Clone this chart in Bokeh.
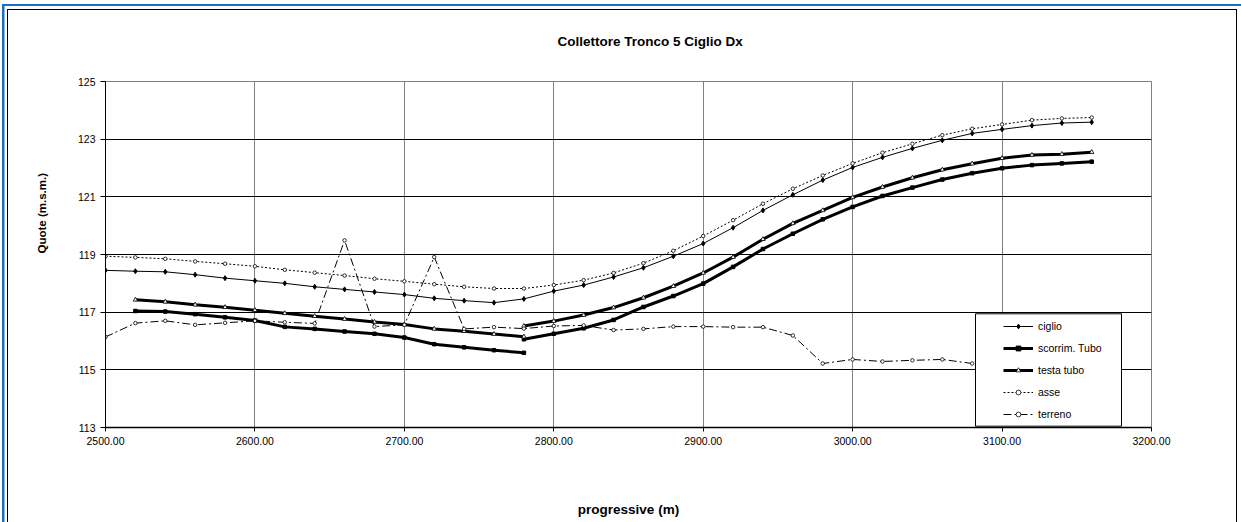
from bokeh.plotting import figure
from bokeh.models import (Range1d, FixedTicker, NumeralTickFormatter, Title,
                          Legend, LegendItem, BoxAnnotation)
from bokeh.embed import file_html
from bokeh.resources import INLINE

# ---------------- data ----------------
title_text = "Collettore Tronco 5 Ciglio Dx"
x_title = "progressive (m)"
y_title = "Quote (m.s.m.)"

x_ticks = [2500, 2600, 2700, 2800, 2900, 3000, 3100, 3200]
y_ticks = [113, 115, 117, 119, 121, 123, 125]

prog = [2500, 2520, 2540, 2560, 2580, 2600, 2620, 2640, 2660, 2680,
        2700, 2720, 2740, 2760, 2780, 2800, 2820, 2840, 2860, 2880,
        2900, 2920, 2940, 2960, 2980, 3000, 3020, 3040, 3060, 3080,
        3100, 3120, 3140, 3160]

ciglio = [118.45, 118.42, 118.40, 118.30, 118.18, 118.09, 118.00, 117.88, 117.79, 117.70,
          117.61, 117.48, 117.40, 117.33, 117.46, 117.73, 117.94, 118.22, 118.54, 118.94,
          119.38, 119.93, 120.53, 121.07, 121.58, 122.02, 122.37, 122.68, 122.96, 123.20,
          123.34, 123.47, 123.56, 123.59]

asse = [118.94, 118.90, 118.85, 118.76, 118.68, 118.59, 118.47, 118.37, 118.27, 118.16,
        118.07, 117.97, 117.88, 117.82, 117.82, 117.94, 118.11, 118.36, 118.70, 119.13,
        119.64, 120.19, 120.76, 121.28, 121.74, 122.16, 122.53, 122.84, 123.14, 123.36,
        123.51, 123.66, 123.72, 123.75]

prog_terreno = [2500, 2520, 2540, 2560, 2580, 2600, 2620, 2640, 2660, 2680,
                2700, 2720, 2740, 2760, 2780, 2800, 2820, 2840, 2860, 2880,
                2900, 2920, 2940, 2960, 2980, 3000, 3020, 3040, 3060, 3080]
terreno = [116.14, 116.62, 116.70, 116.56, 116.63, 116.70, 116.65, 116.61, 119.49, 116.50,
           116.56, 118.91, 116.42, 116.48, 116.43, 116.52, 116.54, 116.38, 116.42, 116.50,
           116.50, 116.48, 116.48, 116.19, 115.22, 115.36, 115.29, 115.33, 115.36, 115.22]

# pipe: two stretches, split at 2780
prog_tubo_sx = [2520, 2540, 2560, 2580, 2600, 2620, 2640, 2660, 2680, 2700,
                2720, 2740, 2760, 2780]
prog_tubo_dx = [2780, 2800, 2820, 2840, 2860, 2880, 2900, 2920, 2940, 2960,
                2980, 3000, 3020, 3040, 3060, 3080, 3100, 3120, 3140, 3160]

scorrim_sx = [117.04, 117.02, 116.93, 116.82, 116.71, 116.49, 116.42, 116.33, 116.25, 116.12,
              115.89, 115.78, 115.68, 115.59]
scorrim_dx = [116.06, 116.25, 116.44, 116.73, 117.18, 117.56, 117.99, 118.57, 119.19, 119.72,
              120.22, 120.65, 121.03, 121.32, 121.60, 121.82, 121.99, 122.10, 122.16, 122.22]

testa_sx = [117.43, 117.36, 117.26, 117.17, 117.07, 116.96, 116.86, 116.76, 116.66, 116.57,
            116.42, 116.34, 116.24, 116.15]
testa_dx = [116.52, 116.69, 116.90, 117.16, 117.50, 117.90, 118.36, 118.91, 119.53, 120.08,
            120.53, 120.98, 121.34, 121.66, 121.94, 122.15, 122.34, 122.45, 122.48, 122.55]

# ---------------- figure ----------------
FONT = "Liberation Sans"
nan = float("nan")

p = figure(width=1241, height=522, output_backend="svg", toolbar_location=None,
           x_range=Range1d(2500, 3200), y_range=Range1d(113, 125),
           min_border_left=105, min_border_right=90, min_border_top=81, min_border_bottom=95,
           background_fill_color="white", border_fill_color="white", border_fill_alpha=0)
p.styles = {"box-shadow": ", ".join([
    "inset 2px 0 0 0 #ffffff", "inset 0 4px 0 0 #ffffff",
    "inset 4.5px 0 0 0 #1F6FC0", "inset 0 6px 0 0 #1F6FC0",
    "inset 7px 0 0 0 #ffffff", "inset 0 9px 0 0 #ffffff", "inset -4px 0 0 0 #ffffff",
    "inset 8px 0 0 0 #000000", "inset 0 10px 0 0 #000000", "inset -5px 0 0 0 #000000",
]), "background-color": "white"}
p.outline_line_color = "#808080"
p.outline_line_width = 1

# title (above)
p.title.text = title_text
p.title.align = "left"
p.title.offset = 452
p.title.vertical_align = "top"
p.title.standoff = 62
p.title.text_font = FONT
p.title.text_font_style = "bold"
p.title.text_font_size = "13.5px"
p.title.text_color = "black"

p.xgrid.ticker = FixedTicker(ticks=x_ticks)
p.xgrid.grid_line_color = "#808080"
p.xgrid.grid_line_width = 1
p.ygrid.ticker = FixedTicker(ticks=y_ticks)
p.ygrid.grid_line_color = "black"
p.ygrid.grid_line_width = 1

xa = p.xaxis[0]
xa.ticker = FixedTicker(ticks=x_ticks)
xa.formatter = NumeralTickFormatter(format="0.00")
xa.axis_line_color = "black"
xa.axis_line_width = 1.5
xa.major_tick_out = 4
xa.major_tick_in = 0
xa.minor_tick_out = 0
xa.minor_tick_in = 0
xa.major_label_standoff = 5
xa.major_label_text_font = FONT
xa.major_label_text_font_size = "10.5px"
xa.major_label_text_color = "black"
xa.axis_label = x_title
xa.axis_label_standoff = 54
xa.axis_label_text_font = FONT
xa.axis_label_text_font_style = "bold"
xa.axis_label_text_font_size = "13.5px"
xa.axis_label_text_color = "black"

ya = p.yaxis[0]
ya.ticker = FixedTicker(ticks=y_ticks)
ya.axis_line_color = "black"
ya.axis_line_width = 1
ya.major_tick_out = 5
ya.major_tick_in = 0
ya.minor_tick_out = 0
ya.minor_tick_in = 0
ya.major_label_standoff = 5
ya.major_label_text_font = FONT
ya.major_label_text_font_size = "10.5px"
ya.major_label_text_color = "black"

# y-axis title as a side title so it can be shifted along the axis
p.add_layout(Title(text=y_title, align="left", offset=174, vertical_align="bottom",
                   standoff=54, text_font=FONT, text_font_style="bold",
                   text_font_size="11.5px", text_color="black"), "left")

# series
tubo_x = prog_tubo_sx + [nan] + prog_tubo_dx
scorrim = scorrim_sx + [nan] + scorrim_dx
testa = testa_sx + [nan] + testa_dx

r_c_l = p.line(prog, ciglio, line_color="black", line_width=1)
r_c_m = p.scatter(prog, ciglio, marker="diamond", size=5, fill_color="black", line_color="black")

r_s_l = p.line(tubo_x, scorrim, line_color="black", line_width=3)
r_s_m = p.scatter(tubo_x, scorrim, marker="square", size=3.5, fill_color="black", line_color="black")

r_t_l = p.line(tubo_x, testa, line_color="black", line_width=3)
r_t_m = p.scatter(tubo_x, testa, marker="triangle", size=4.5, fill_color="white", line_color="black", line_width=0.8)

r_a_l = p.line(prog, asse, line_color="black", line_width=1, line_dash="2 2")
r_a_m = p.scatter(prog, asse, marker="circle", size=3.5, fill_color="white", line_color="black", line_width=0.8)

r_g_l = p.line(prog_terreno, terreno, line_color="black", line_width=1, line_dash="8 3 2 3")
r_g_m = p.scatter(prog_terreno, terreno, marker="circle", size=3.5, fill_color="white", line_color="black", line_width=0.8)

# legend box
box = BoxAnnotation(left=870, right=1016, bottom=1.3, top=113.7,
                    left_units="screen", right_units="screen",
                    top_units="screen", bottom_units="screen",
                    fill_color="white", fill_alpha=1.0,
                    line_color="black", line_width=1, line_alpha=1.0)
p.add_layout(box)

legend = Legend(items=[
    LegendItem(label="ciglio", renderers=[r_c_l, r_c_m]),
    LegendItem(label="scorrim. Tubo", renderers=[r_s_l, r_s_m]),
    LegendItem(label="testa tubo", renderers=[r_t_l, r_t_m]),
    LegendItem(label="asse", renderers=[r_a_l, r_a_m]),
    LegendItem(label="terreno", renderers=[r_g_l, r_g_m]),
], location=(898, 7), padding=0, spacing=10, glyph_width=30, glyph_height=12,
   label_height=12, label_standoff=5, border_line_alpha=0, background_fill_alpha=0,
   label_text_font=FONT, label_text_font_size="10.5px", label_text_color="black")
p.add_layout(legend)

open("out.html", "w").write(file_html(p, INLINE))
